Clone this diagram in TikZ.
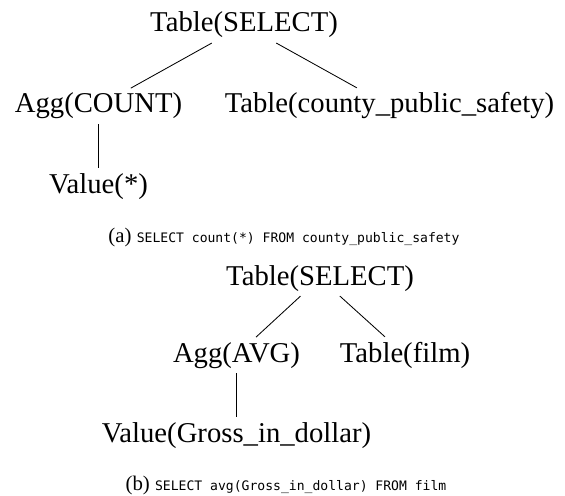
\documentclass[tikz,border=0pt]{standalone}
\usepackage{fontspec}
\setmainfont{Liberation Serif}
\setmonofont{DejaVu Sans Mono}
\usepackage{tikz}
\usetikzlibrary{positioning}

\tikzset{
  tree/.style={anchor=base, font=\fontsize{20.4}{24}\selectfont},
  capt/.style={anchor=base, inner sep=0pt, font=\fontsize{14.8}{18}\selectfont},
  edge/.style={line width=0.6pt}
}
\newcommand{\sqlcode}[1]{{\fontsize{9.3}{11}\selectfont\ttfamily #1}}

\begin{document}
\begin{tikzpicture}
  \useasboundingbox (0, 0) rectangle (14.125, 12.375);

  % (a)
  \node[tree] (rootA) at (6.1, 11.575) {Table(SELECT)};
  \node[tree] (aggA) at (2.4625, 9.55) {Agg(COUNT)};
  \node[tree] (tabA) at (9.7375, 9.55) {Table(county\_public\_safety)};
  \node[tree] (valA) at (2.4625, 7.55) {Value(*)};
  \draw[edge] (rootA) -- (aggA);
  \draw[edge] (rootA) -- (tabA);
  \draw[edge] (aggA) -- (valA);
  \node[capt] (capA) at (7.1, 6.325)
    {(a) \sqlcode{SELECT count(*) FROM county\_public\_safety}};

  % (b)
  \node[tree] (rootB) at (8.0, 5.25) {Table(SELECT)};
  \node[tree] (aggB) at (5.9125, 3.325) {Agg(AVG)};
  \node[tree] (tabB) at (10.125, 3.325) {Table(film)};
  \node[tree] (valB) at (5.9125, 1.325) {Value(Gross\_in\_dollar)};
  \draw[edge] (rootB) -- (aggB);
  \draw[edge] (rootB) -- (tabB);
  \draw[edge] (aggB) -- (valB);
  \node[capt] (capB) at (7.15, 0.125)
    {(b) \sqlcode{SELECT avg(Gross\_in\_dollar) FROM film}};
\end{tikzpicture}
\end{document}
